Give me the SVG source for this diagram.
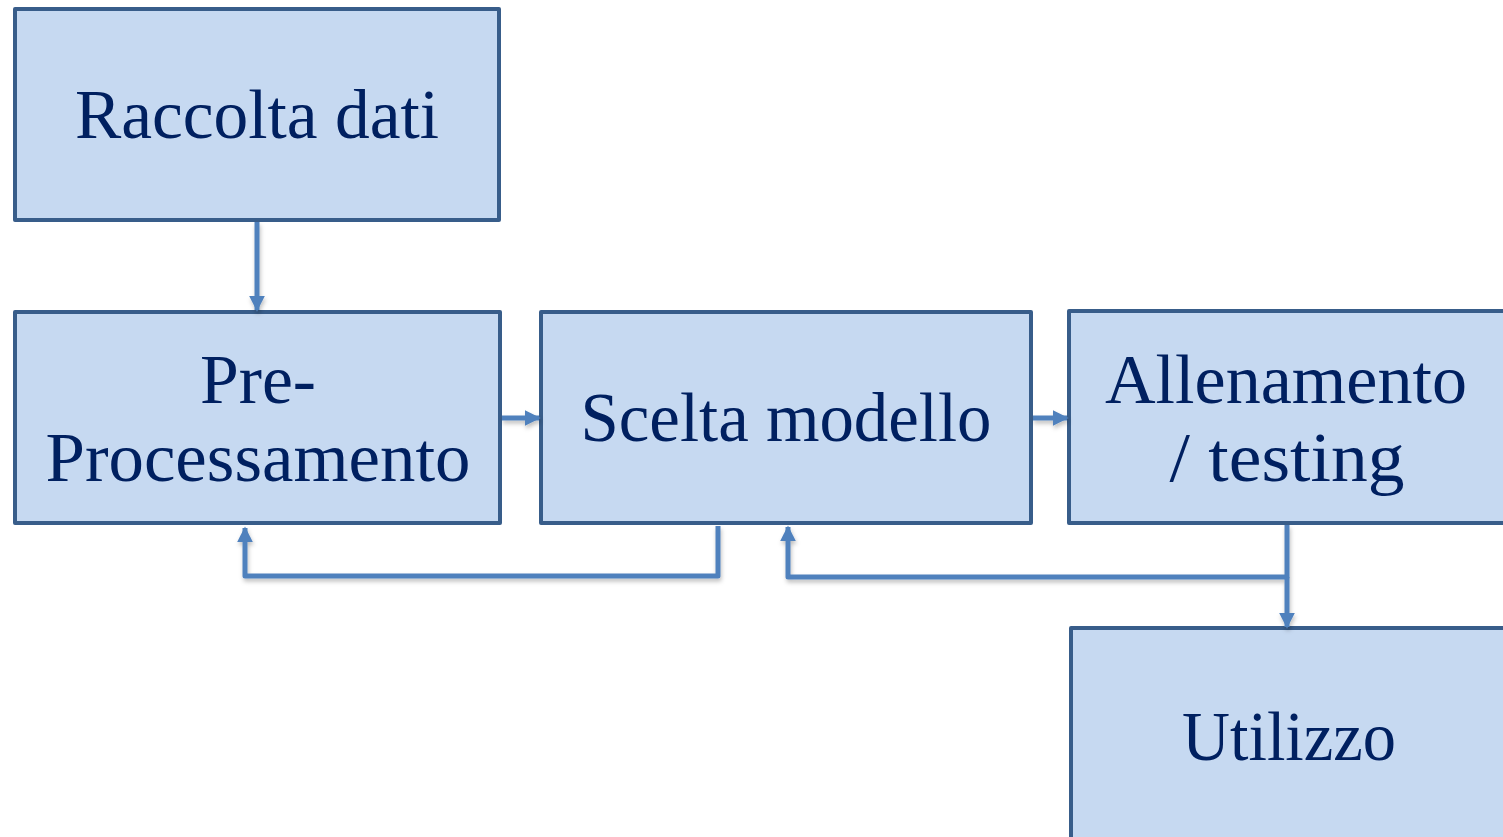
<svg xmlns="http://www.w3.org/2000/svg" width="1503" height="837" viewBox="0 0 1503 837">
<style>
.box{fill:#C6D9F1;stroke:#385D8A;stroke-width:4;stroke-linejoin:round}
.lbl{font-family:"Liberation Serif","Times New Roman",serif;font-size:70px;fill:#002060;text-anchor:middle}
.con{fill:none;stroke:#4F81BD;stroke-width:5;stroke-linejoin:round}
</style>
<defs>
<marker id="ah" viewBox="0 0 10 10" refX="9" refY="5" markerWidth="3.2" markerHeight="3.2" markerUnits="strokeWidth" orient="auto">
<path d="M0,0 L10,5 L0,10 z" fill="#4F81BD"/>
</marker>
<filter id="sh" x="-10%" y="-10%" width="120%" height="130%">
<feDropShadow dx="1" dy="3" stdDeviation="2" flood-color="#000" flood-opacity="0.25"/>
</filter>
</defs>
<g id="n1"><rect class="box" x="15" y="9" width="484" height="211"/><text class="lbl" x="257" y="138" textLength="364" lengthAdjust="spacingAndGlyphs">Raccolta dati</text></g>
<g id="n2"><rect class="box" x="15" y="312" width="485" height="211"/><text class="lbl" x="258" y="403" textLength="116" lengthAdjust="spacingAndGlyphs">Pre-</text><text class="lbl" x="258" y="481" textLength="425" lengthAdjust="spacingAndGlyphs">Processamento</text></g>
<g id="n3"><rect class="box" x="541" y="312" width="490" height="211"/><text class="lbl" x="786" y="441" textLength="411" lengthAdjust="spacingAndGlyphs">Scelta modello</text></g>
<g id="n4"><rect class="box" x="1069" y="311" width="450" height="212"/><text class="lbl" x="1286" y="403" textLength="362" lengthAdjust="spacingAndGlyphs">Allenamento</text><text class="lbl" x="1287" y="481" textLength="235" lengthAdjust="spacingAndGlyphs">/ testing</text></g>
<g id="n5"><rect class="box" x="1071" y="628" width="450" height="230"/><text class="lbl" x="1289" y="760" textLength="214" lengthAdjust="spacingAndGlyphs">Utilizzo</text></g>
<g id="connectors" filter="url(#sh)">
<path class="con" d="M257,222 L257,310" marker-end="url(#ah)"/>
<path class="con" d="M502,418 L539,418" marker-end="url(#ah)"/>
<path class="con" d="M1033,418 L1067,418" marker-end="url(#ah)"/>
<path class="con" d="M718,526 L718,576 L245,576 L245,528" marker-end="url(#ah)"/>
<path class="con" d="M1287,525 L1287,577 L788,577 L788,527" marker-end="url(#ah)"/>
<path class="con" d="M1287,577 L1287,627" marker-end="url(#ah)"/>
</g>
</svg>
